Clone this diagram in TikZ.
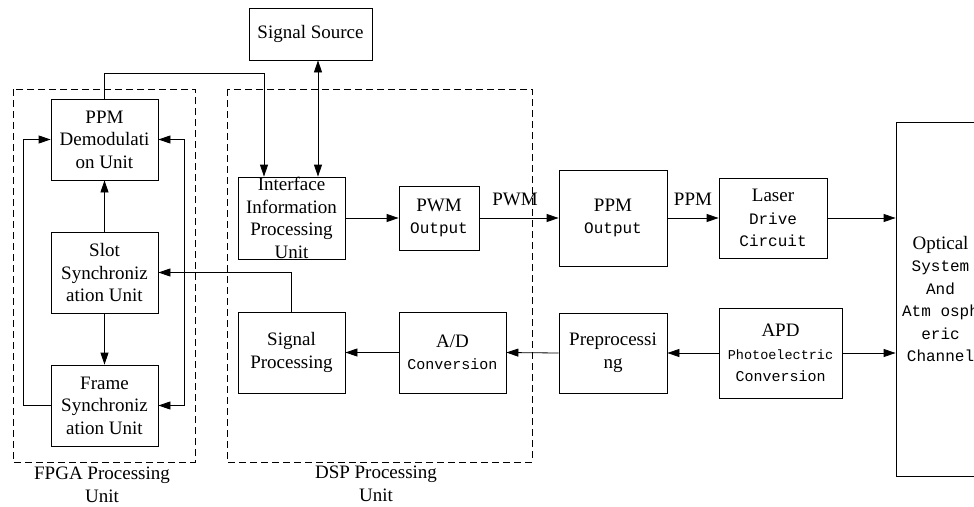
\documentclass[tikz,border=0pt]{standalone}
\usepackage{fontspec}
\setmainfont{Liberation Serif}
\newfontfamily\simfont{Liberation Mono}
\usetikzlibrary{arrows.meta}
\newcommand{\sm}[2][16]{{\simfont\fontsize{#1}{22.5}\selectfont #2}}

\begin{document}
\begin{tikzpicture}[x=1pt,y=-1pt,line width=0.8pt,
	blk/.style={draw,rectangle,align=center,inner sep=0pt,font=\fontsize{19}{22.5}\selectfont},
	grp/.style={draw,dashed,dash pattern=on 7pt off 4pt},
	lbl/.style={align=center,inner sep=0pt,font=\fontsize{19}{22.5}\selectfont},
	arr/.style={-{Triangle[length=12pt,width=8pt]}},
	dbl/.style={{Triangle[length=12pt,width=8pt]}-{Triangle[length=12pt,width=8pt]}}]
	\useasboundingbox (0,0) rectangle (974,506);
	\clip (0,0) rectangle (974,506);
		\draw[grp] (13,89) rectangle (195,462);
		\draw[grp] (227,89) rectangle (532,462);
		\node[lbl] (fpgal) at (102,485) {FPGA Processing\\Unit};
		\node[lbl] (dspl) at (376,484) {DSP Processing\\Unit};
		\node[blk,minimum width=123pt,minimum height=52pt] (src) at (310.5,34) {Signal Source};
		\node[blk,minimum width=107pt,minimum height=81pt] (demod) at (104.5,139.5) {PPM\\Demodulati\\on Unit};
		\node[blk,minimum width=107pt,minimum height=81pt] (slot) at (104.5,272.5) {Slot\\Synchroniz\\ation Unit};
		\node[blk,minimum width=107pt,minimum height=81pt] (frame) at (104.5,405.5) {Frame\\Synchroniz\\ation Unit};
		\node[blk,minimum width=107pt,minimum height=82pt] (iface) at (291.5,218) {Interface\\Information\\Processing\\Unit};
		\node[blk,minimum width=80pt,minimum height=64pt] (pwm) at (439,218) {PWM\\\sm{Output}};
		\node[blk,minimum width=107pt,minimum height=81pt] (sigp) at (291.5,352.5) {Signal\\Processing};
		\node[blk,minimum width=107pt,minimum height=81pt] (adc) at (452.5,352.5) {A/D\\\sm[15]{Conversion}};
		\node[blk,minimum width=108pt,minimum height=96pt] (ppmout) at (613,218) {PPM\\\sm{Output}};
		\node[blk,minimum width=108pt,minimum height=80pt] (laser) at (773,218) {Laser\\\sm{Drive}\\\sm{Circuit}};
		\node[blk,minimum width=108pt,minimum height=80pt] (pre) at (613,353) {Preprocessi\\ng};
		\node[blk,minimum width=123pt,minimum height=90pt] (apd) at (780.5,353) {APD\\\sm[13.5]{Photoelectric}\\\sm[15]{Conversion}};
		\node[blk,minimum width=89pt,minimum height=354pt] (opt) at (940.5,299) {Optical\\\sm{System}\\\sm{And}\\\sm{Atm osph}\\\sm{eric}\\\sm{Channel}};
		\draw[arr] (demod.north) -- ++(0,-25) -| ([xshift=-27.5pt]iface.north);
		\draw[dbl] ([xshift=7.5pt]src.south) -- ([xshift=26.5pt]iface.north);
		\draw[arr] (slot.north) -- (demod.south);
		\draw[arr] (slot.south) -- (frame.north);
		\draw[arr] (frame.west) -- ++(-27,0) |- (demod.west);
		\draw[dbl] (demod.east) -- ++(26,0) |- (frame.east);
		\draw[arr] (sigp.north) |- (slot.east);
		\draw[arr] (iface.east) -- (pwm.west);
		\draw[arr] (pwm.east) -- (ppmout.west) node[lbl,pos=0.45,above=12pt] (pwml) {PWM};
		\draw[arr] (ppmout.east) -- (laser.west) node[lbl,midway,above=12pt] (ppml) {PPM};
		\draw[arr] (laser.east) -- (laser.east -| opt.west);
		\draw[arr] (apd.east) -- (apd.east -| opt.west);
		\draw[arr] (apd.west) -- (pre.east);
		\draw[arr] (pre.west) -- (adc.east);
		\draw[arr] (adc.west) -- (sigp.east);
\end{tikzpicture}
\end{document}
